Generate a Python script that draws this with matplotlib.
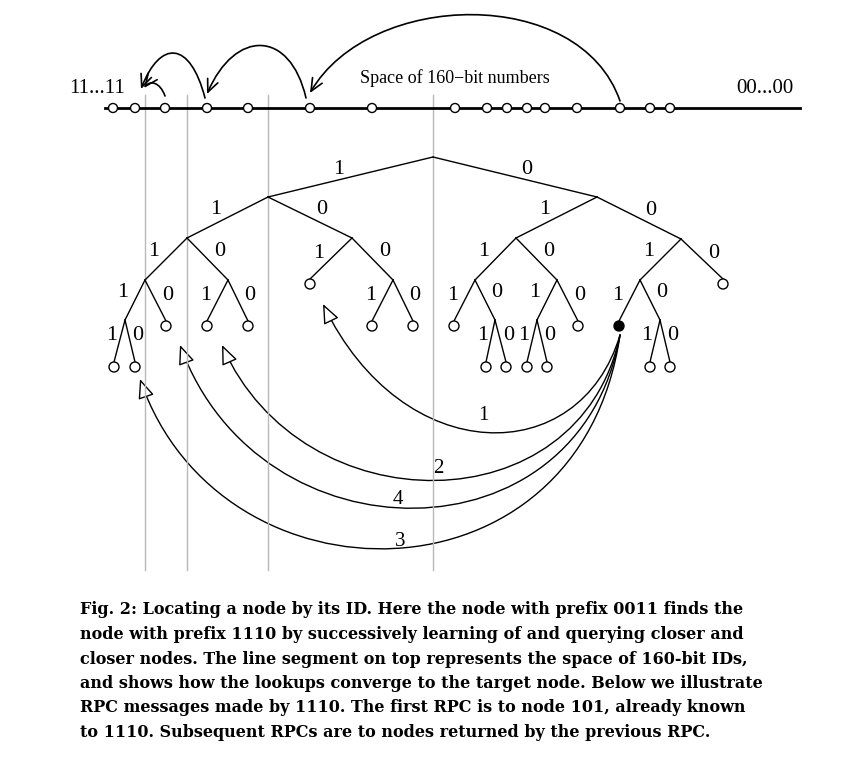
import matplotlib.pyplot as plt
from matplotlib.patches import FancyArrowPatch, Circle
from matplotlib.path import Path

# tree nodes (pixel positions, y down)
nodes = {
    'r': (433, 157),
    '1': (268, 197), '0': (597, 197),
    '11': (187, 238), '10': (352, 238), '01': (516, 238), '00': (681, 239),
    '111': (145, 280), '110': (228, 280), '101': (310, 284), '100': (393, 280),
    '011': (475, 280), '010': (557, 280), '001': (640, 280), '000': (723, 284),
    '1111': (125, 320), '1110': (166, 326), '1101': (207, 326), '1100': (248, 326),
    '1001': (372, 326), '1000': (413, 326), '0111': (454, 326), '0110': (495, 320),
    '0101': (537, 320), '0100': (578, 326), '0011': (619, 326), '0010': (660, 320),
    '11111': (114, 367), '11110': (135, 367), '01101': (486, 367), '01100': (506, 367),
    '01011': (527, 367), '01010': (547, 367), '00101': (650, 367), '00100': (670, 367),
}
leaves = ['1110', '1101', '1100', '101', '1001', '1000', '0111', '0100', '000',
          '11111', '11110', '01101', '01100', '01011', '01010', '00101', '00100']
me = '0011'

line_x = [113, 135, 165, 207, 248, 310, 372, 455, 487, 507, 527, 545, 577, 620, 650, 670]
guide_x = [145, 187, 268, 433]

# rpc arrows: label, target, bottom y of curve, label pos
rpc = [('1', (323, 304), 470, (483, 415)),
       ('2', (222, 345), 527, (438, 468)),
       ('4', (180, 345), 564, (398, 499)),
       ('3', (140, 379), 612, (400, 542))]

caption = [
    "Fig. 2: Locating a node by its ID. Here the node with prefix 0011 finds the",
    "node with prefix 1110 by successively learning of and querying closer and",
    "closer nodes. The line segment on top represents the space of 160-bit IDs,",
    "and shows how the lookups converge to the target node. Below we illustrate",
    "RPC messages made by 1110. The first RPC is to node 101, already known",
    "to 1110. Subsequent RPCs are to nodes returned by the previous RPC.",
]

fig = plt.figure(figsize=(8.66, 7.78), dpi=100)
ax = fig.add_axes([0, 0, 1, 1])
ax.set_xlim(0, 866)
ax.set_ylim(778, 0)
ax.axis('off')
serif = 'Liberation Serif'
R = 5

for gx in guide_x:
    ax.plot([gx, gx], [95, 570], color='#b8b8b8', lw=1)

# tree edges
for name, (x, y) in nodes.items():
    if name == 'r':
        continue
    parent = name[:-1] or 'r'
    px, py = nodes[parent]
    ey = y - R if name in leaves or name == me else y
    ax.plot([px, x], [py, ey], color='k', lw=1)
    mx, my = (px + x) / 2, (py + y) / 2
    off = 8 if len(name) == 5 else 12
    dx = -off if name[-1] == '1' else off
    ax.text(mx + dx, my - 8, name[-1], fontsize=16, family=serif, ha='center', va='center')

for name in leaves:
    ax.add_patch(Circle(nodes[name], R, fc='white', ec='k', lw=1, zorder=3))
ax.add_patch(Circle(nodes[me], R, fc='k', ec='k', lw=1, zorder=3))

# top line
ax.plot([105, 800], [108, 108], color='k', lw=2)
for lx in line_x:
    ax.add_patch(Circle((lx, 108), 4.5, fc='white', ec='k', lw=1, zorder=3))
ax.text(97, 88, "11...11", fontsize=15, family=serif, ha='center', va='center')
ax.text(765, 88, "00...00", fontsize=15, family=serif, ha='center', va='center')
ax.text(455, 78, "Space of 160\u2212bit numbers", fontsize=13, family=serif, ha='center', va='center')

top_arcs = [((620, 101), (580, -15), (370, -10), (310, 93)),
            ((306, 98), (290, 29), (235, 29), (207, 94)),
            ((205, 98), (190, 40), (160, 40), (141, 89)),
            ((165, 96), (160, 82), (150, 80), (144, 88))]
for p0, c1, c2, p3 in top_arcs:
    path = Path([p0, c1, c2, p3], [Path.MOVETO, Path.CURVE4, Path.CURVE4, Path.CURVE4])
    ax.add_patch(FancyArrowPatch(path=path, arrowstyle='->,head_length=9,head_width=4',
                                 color='k', lw=1.2))

src = nodes[me]
for lab, tgt, cy, lpos in rpc:
    p0 = (src[0] + 1, src[1] + 9)
    c1 = (p0[0] - 40, cy)
    c2 = (tgt[0] + 80, cy)
    path = Path([p0, c1, c2, tgt], [Path.MOVETO, Path.CURVE4, Path.CURVE4, Path.CURVE4])
    ax.add_patch(FancyArrowPatch(path=path, arrowstyle='-|>,head_length=12,head_width=5',
                                 fc='white', ec='k', lw=1))
    ax.text(lpos[0], lpos[1], lab, fontsize=15, family=serif, ha='center', va='center')

for i, line in enumerate(caption):
    ax.text(80, 610 + i * 24.5, line, fontsize=11.5, family='DejaVu Serif', weight='bold',
            ha='left', va='center')

fig.savefig('out.png')
